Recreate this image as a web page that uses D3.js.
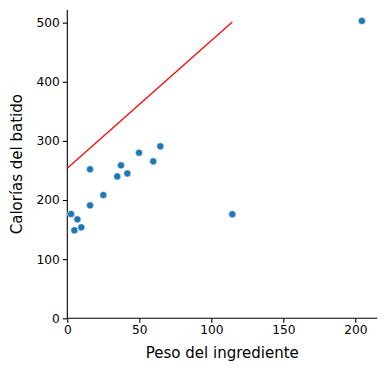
<!DOCTYPE html>
<html>
<head>
<meta charset="utf-8">
<script src="https://cdn.jsdelivr.net/npm/d3@7"></script>
<style>
  body { margin: 0; background: #fff; }
  svg text { font-family: "DejaVu Sans", sans-serif; fill: #000; }
</style>
</head>
<body>
<div id="chart"></div>
<script>
// peso del ingrediente vs calorías del batido
const peso = [204.6, 114.6, 49.8, 37.3, 59.7, 15.8, 34.7, 41.7, 25.0, 15.8, 2.6, 7.0, 4.9, 9.7, 64.6];
const calorias = [503, 176, 280, 258.7, 265.5, 252, 240, 245, 208.5, 191, 176.4, 167.4, 148.8, 153.9, 290.9];

// red reference line
const lineX = [0, 114.6];
const lineY = [253.7, 501];

const xTicks = [0, 50, 100, 150, 200];
const yTicks = [0, 100, 200, 300, 400, 500];

const W = 386, H = 372;
const margin = {top: 10, right: 8.7, bottom: 53.7, left: 67.3},
    width = W - margin.left - margin.right,
    height = H - margin.top - margin.bottom;

const x = d3.scaleLinear().domain([0, 215.3]).range([0, width]);
const y = d3.scaleLinear().domain([0, 521.4]).range([height, 0]);

const svg = d3.select("#chart").append("svg")
        .attr("width", W)
        .attr("height", H)
    .append("g")
        .attr("transform", "translate(" + margin.left + "," + margin.top + ")");

const xAxis = d3.axisBottom(x).tickValues(xTicks).tickSize(4.5).tickPadding(3);
const yAxis = d3.axisLeft(y).tickValues(yTicks).tickSize(4.5).tickPadding(3);

const gx = svg.append("g")
        .attr("transform", "translate(0," + height + ")")
        .call(xAxis);
const gy = svg.append("g").call(yAxis);

[gx, gy].forEach(g => {
    g.selectAll("text").style("font-size", "12.2px");
    g.selectAll("line, path").attr("stroke", "#000").attr("stroke-width", 1.1);
    g.select(".domain").attr("d", g === gx ? "M0,0H" + width : "M0," + height + "V0");
});

svg.append("path")
    .datum(lineX.map((d, i) => [d, lineY[i]]))
    .attr("fill", "none")
    .attr("stroke", "red")
    .attr("stroke-width", 1.2)
    .attr("d", d3.line().x(d => x(d[0])).y(d => y(d[1])));

svg.append("g").selectAll("circle")
    .data(peso.map((d, i) => [d, calorias[i]]))
    .join("circle")
        .attr("cx", d => x(d[0]))
        .attr("cy", d => y(d[1]))
        .attr("r", 3.6)
        .attr("fill", "#1f77b4")
        .attr("stroke", "#fff")
        .attr("stroke-width", 0.6);

svg.append("text")
    .attr("x", width / 2)
    .attr("y", height + 40)
    .attr("text-anchor", "middle")
    .style("font-size", "15px")
    .text("Peso del ingrediente");

svg.append("text")
    .attr("transform", "rotate(-90)")
    .attr("x", -height / 2)
    .attr("y", -45)
    .attr("text-anchor", "middle")
    .style("font-size", "15px")
    .text("Calorías del batido");
</script>
</body>
</html>
